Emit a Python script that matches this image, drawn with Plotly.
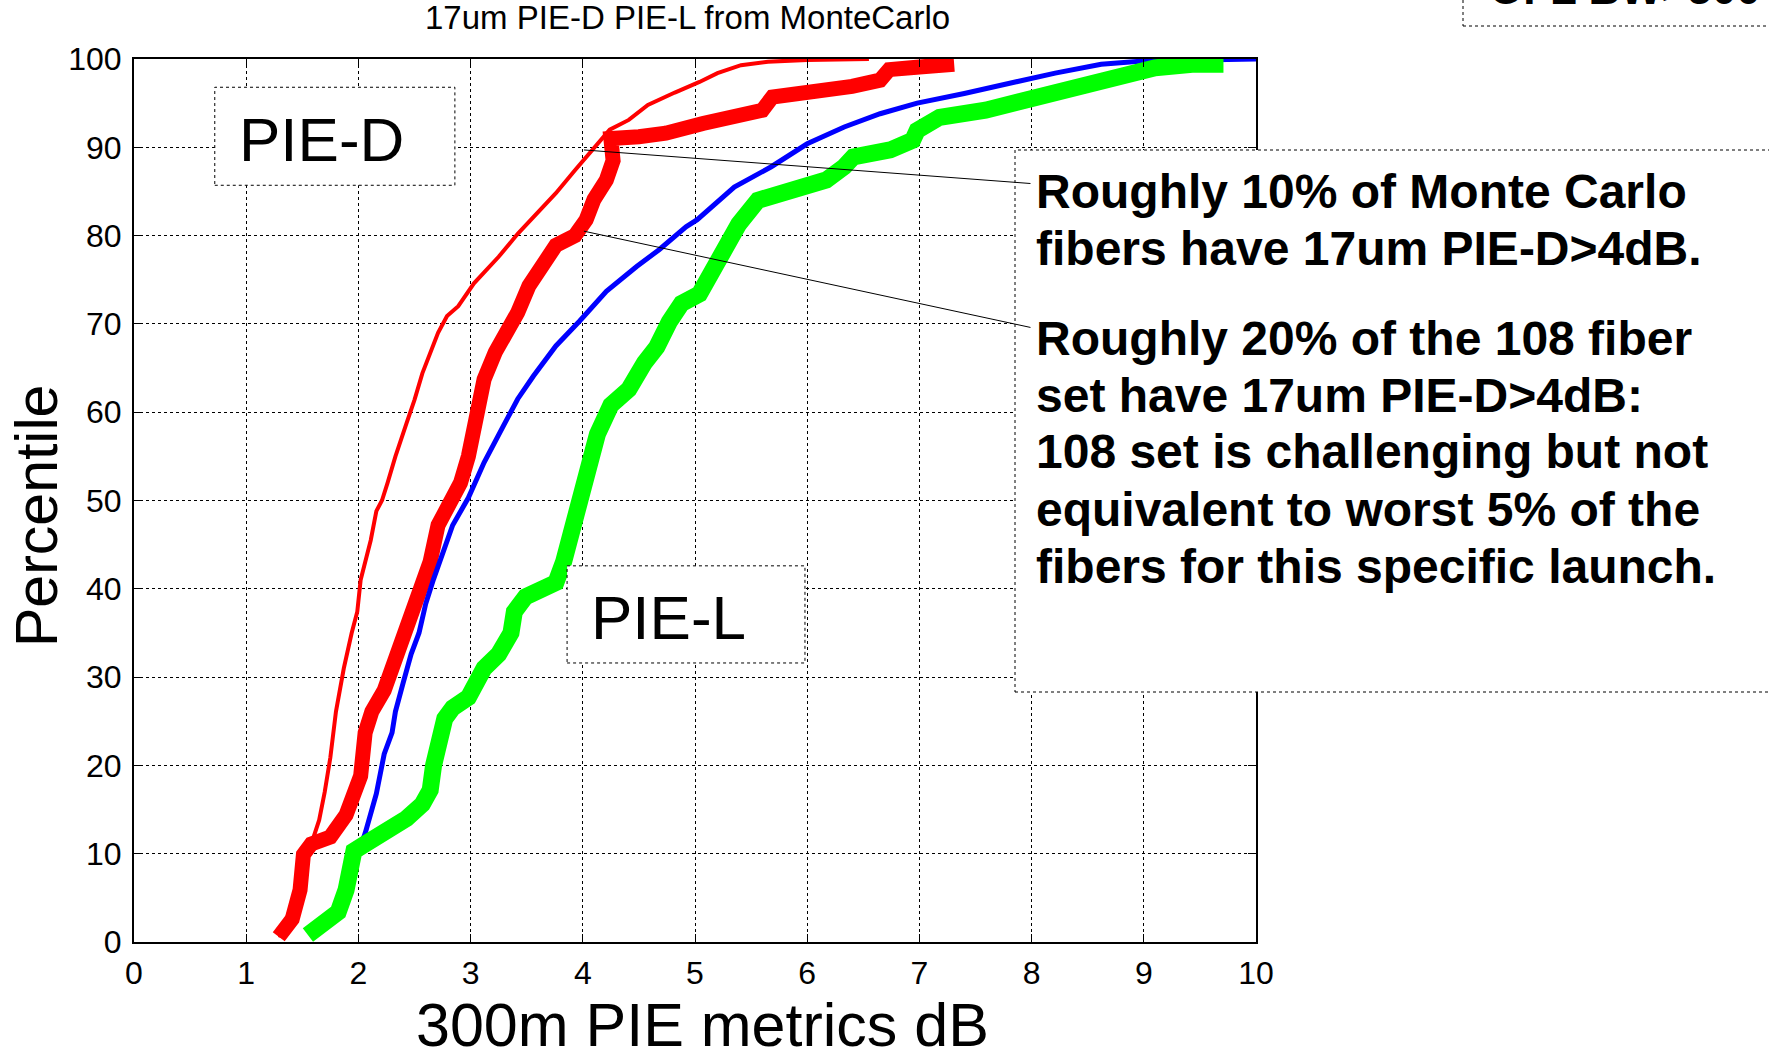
import plotly.graph_objects as go

# Percentile curves (x in dB, y in percent)
mc_pied_x = [1.30, 1.40, 1.50, 1.58, 1.65, 1.70, 1.75, 1.80, 1.87, 1.94, 1.99, 2.02, 2.11, 2.16, 2.21,
             2.26, 2.33, 2.43, 2.50, 2.57, 2.64, 2.71, 2.79, 2.89, 3.03, 3.25, 3.42, 3.59, 3.76, 3.93,
             4.10, 4.24, 4.41, 4.58, 4.82, 5.04, 5.20, 5.41, 5.65, 6.00, 6.55]
mc_pied_y = [0.5, 4, 8, 11, 13.8, 17, 20.9, 26.1, 31, 35, 37.4, 41, 45.5, 48.8, 50,
             52, 55, 58.8, 61.4, 64.4, 66.7, 69, 70.9, 72, 74.6, 77.6, 80.2, 82.5, 84.8, 87.4,
             90, 92, 93.1, 94.8, 96.2, 97.4, 98.4, 99.3, 99.7, 99.9, 100]

set_pied_x = [1.29, 1.41, 1.48, 1.51, 1.58, 1.75, 1.89, 1.97, 2.02, 2.06, 2.12, 2.23, 2.33, 2.40, 2.47,
              2.57, 2.64, 2.71, 2.77, 2.91, 2.98, 3.05, 3.12, 3.22, 3.32, 3.42, 3.52, 3.63, 3.76, 3.93,
              4.03, 4.10, 4.21, 4.27, 4.25, 4.50, 4.74, 5.07, 5.41, 5.60, 5.69, 6.00, 6.40, 6.65, 6.73,
              7.00, 7.31]
set_pied_y = [0.6, 2.6, 5.9, 9.9, 11.1, 11.9, 14.4, 16.8, 18.8, 23.7, 26.1, 28.5, 31.8, 35, 37.4,
              40.3, 43.1, 47.2, 48.6, 52, 55, 60.5, 63.7, 66.8, 69, 71.3, 74.3, 76.6, 78.9, 80,
              81.8, 84.1, 86.3, 88.5, 91, 91.2, 91.6, 92.7, 93.8, 94.2, 95.7, 96.1, 96.9, 97.6, 98.8,
              99.1, 99.4]

mc_piel_x = [1.98, 2.06, 2.16, 2.23, 2.30, 2.33, 2.40, 2.47, 2.54, 2.60, 2.67, 2.74, 2.84, 2.98, 3.12,
             3.29, 3.42, 3.56, 3.76, 3.97, 4.21, 4.48, 4.68, 4.92, 5.02, 5.35, 5.68, 6.00, 6.33, 6.65,
             6.98, 7.40, 7.80, 8.21, 8.62, 9.02, 9.50, 10.0]
mc_piel_y = [9.5, 12.3, 16.8, 21.3, 23.7, 26.1, 29.4, 32.6, 35, 38.3, 41.1, 43.5, 47.2, 50.3, 54.3,
             58.4, 61.5, 64.1, 67.5, 70.3, 73.7, 76.5, 78.4, 81.0, 81.8, 85.5, 87.8, 90.4, 92.3, 93.8,
             95, 96.1, 97.3, 98.4, 99.4, 99.8, 99.9, 100]

set_piel_x = [1.55, 1.68, 1.82, 1.89, 1.92, 1.96, 2.06, 2.23, 2.43, 2.57, 2.64, 2.67, 2.71, 2.77, 2.84,
              2.98, 3.12, 3.25, 3.36, 3.39, 3.49, 3.59, 3.76, 3.83, 3.90, 3.97, 4.02, 4.07, 4.13, 4.25,
              4.41, 4.55, 4.66, 4.77, 4.88, 5.04, 5.15, 5.27, 5.39, 5.56, 5.84, 6.17, 6.33, 6.41, 6.74,
              6.94, 6.98, 7.18, 7.59, 8.00, 8.41, 8.90, 9.10, 9.43, 9.71]
set_piel_y = [0.8, 1.8, 3.4, 5.9, 7.9, 10.3, 11.1, 12.3, 14, 15.6, 17.2, 20, 22, 25.3, 26.5,
              27.7, 31, 32.6, 35, 37.4, 39.1, 39.9, 40.7, 43.1, 46.4, 48.8, 51, 53.9, 57.5, 60.8,
              62.6, 65.6, 67.4, 70.2, 72.3, 73.4, 76, 78.7, 81.3, 84, 85.1, 86.3, 87.8, 88.9, 89.7,
              90.8, 91.9, 93.4, 94.2, 95.5, 96.8, 98, 99, 99.4, 99.4]

x_ticks = list(range(0, 11))
y_ticks = list(range(0, 101, 10))

title_text = "17um PIE-D PIE-L from MonteCarlo"
x_title = "300m PIE metrics dB"
y_title = "Percentile"
note_lines = [
    "Roughly 10% of Monte Carlo",
    "fibers have 17um PIE-D>4dB.",
    "Roughly 20% of the 108 fiber",
    "set have 17um PIE-D>4dB:",
    "108 set is challenging but not",
    "equivalent to worst 5% of the",
    "fibers for this specific launch.",
]
corner_text = "OFL BW>500"

# callout leader lines: (x0, y0, x1, y1) in data units
callouts = [(4.01, 89.7, 7.99, 85.9), (4.01, 80.5, 7.99, 69.6)]

FONT = "Liberation Sans, Arial, sans-serif"

# pixel geometry of the page
W, H = 1769, 1058
L, R, T, B = 134, 1256, 59, 942


def px(xpix):
    return (xpix - L) / (R - L)


def py(ypix):
    return (B - ypix) / (B - T)


fig = go.Figure()
fig.add_trace(go.Scatter(x=set_pied_x, y=set_pied_y, mode="lines",
                         line=dict(color="#ff0000", width=15), showlegend=False))
fig.add_trace(go.Scatter(x=mc_pied_x, y=mc_pied_y, mode="lines",
                         line=dict(color="#ff0000", width=4), showlegend=False))
fig.add_trace(go.Scatter(x=mc_piel_x, y=mc_piel_y, mode="lines",
                         line=dict(color="#0000ff", width=5), showlegend=False))
fig.add_trace(go.Scatter(x=set_piel_x, y=set_piel_y, mode="lines",
                         line=dict(color="#00ff00", width=17), showlegend=False))

axis_common = dict(
    showgrid=True, gridcolor="black", gridwidth=1, griddash="dot",
    showline=True, linecolor="black", linewidth=2, mirror="ticks",
    ticks="inside", ticklen=8, tickwidth=1, tickcolor="black",
    zeroline=False, tickfont=dict(family=FONT, size=32, color="black"),
)
fig.update_xaxes(range=[0, 10], tickvals=x_ticks, ticklabelstandoff=2, **axis_common)
fig.update_yaxes(range=[0, 100], tickvals=y_ticks, ticklabelstandoff=4, **axis_common)

shapes = []
box_line = dict(color="black", width=1, dash="dot")
# label boxes
shapes.append(dict(type="rect", xref="x", yref="y", x0=0.72, x1=2.86, y0=85.7, y1=96.8,
                   fillcolor="white", line=box_line, layer="above"))
shapes.append(dict(type="rect", xref="x", yref="y", x0=3.86, x1=5.98, y0=31.6, y1=42.6,
                   fillcolor="white", line=box_line, layer="above"))
# note box (extends past the plot edge)
shapes.append(dict(type="rect", xref="paper", yref="paper", x0=px(1015), x1=px(1800),
                   y0=py(692), y1=py(150), fillcolor="white", line=box_line, layer="above"))
# corner box
shapes.append(dict(type="rect", xref="paper", yref="paper", x0=px(1463), x1=px(1800),
                   y0=py(26), y1=py(-40), fillcolor="white", line=box_line, layer="above"))
for x0, y0, x1, y1 in callouts:
    shapes.append(dict(type="line", xref="x", yref="y", x0=x0, y0=y0, x1=x1, y1=y1,
                       line=dict(color="black", width=1), layer="above"))

annotations = []
annotations.append(dict(text=title_text, xref="paper", yref="paper", x=px(687), y=py(18),
                        xanchor="center", yanchor="middle", showarrow=False,
                        font=dict(family=FONT, size=33, color="black")))
annotations.append(dict(text=x_title, xref="paper", yref="paper", x=px(702), y=py(1025),
                        xanchor="center", yanchor="middle", showarrow=False,
                        font=dict(family=FONT, size=61, color="black")))
annotations.append(dict(text=y_title, xref="paper", yref="paper", x=px(37), y=py(516),
                        xanchor="center", yanchor="middle", showarrow=False, textangle=-90,
                        font=dict(family=FONT, size=59, color="black")))
annotations.append(dict(text="PIE-D", xref="x", yref="y", x=0.92, y=90.9,
                        xanchor="left", yanchor="middle", showarrow=False,
                        font=dict(family=FONT, size=62, color="black")))
annotations.append(dict(text="PIE-L", xref="x", yref="y", x=4.055, y=36.8,
                        xanchor="left", yanchor="middle", showarrow=False,
                        font=dict(family=FONT, size=62, color="black")))
line_ys = [191, 249, 338, 395, 452, 509, 566]
for txt, yy in zip(note_lines, line_ys):
    annotations.append(dict(text="<b>" + txt + "</b>", xref="paper", yref="paper",
                            x=px(1034), y=py(yy), xanchor="left", yanchor="middle",
                            showarrow=False, font=dict(family=FONT, size=48, color="black")))
annotations.append(dict(text="<b>" + corner_text + "</b>", xref="paper", yref="paper",
                        x=px(1487), y=py(-12), xanchor="left", yanchor="middle",
                        showarrow=False, font=dict(family=FONT, size=44, color="black")))

fig.update_layout(
    width=W, height=H,
    margin=dict(l=L, r=W - R, t=T, b=H - B),
    paper_bgcolor="white", plot_bgcolor="white",
    shapes=shapes, annotations=annotations,
    showlegend=False,
)

fig.write_html("out.html")
